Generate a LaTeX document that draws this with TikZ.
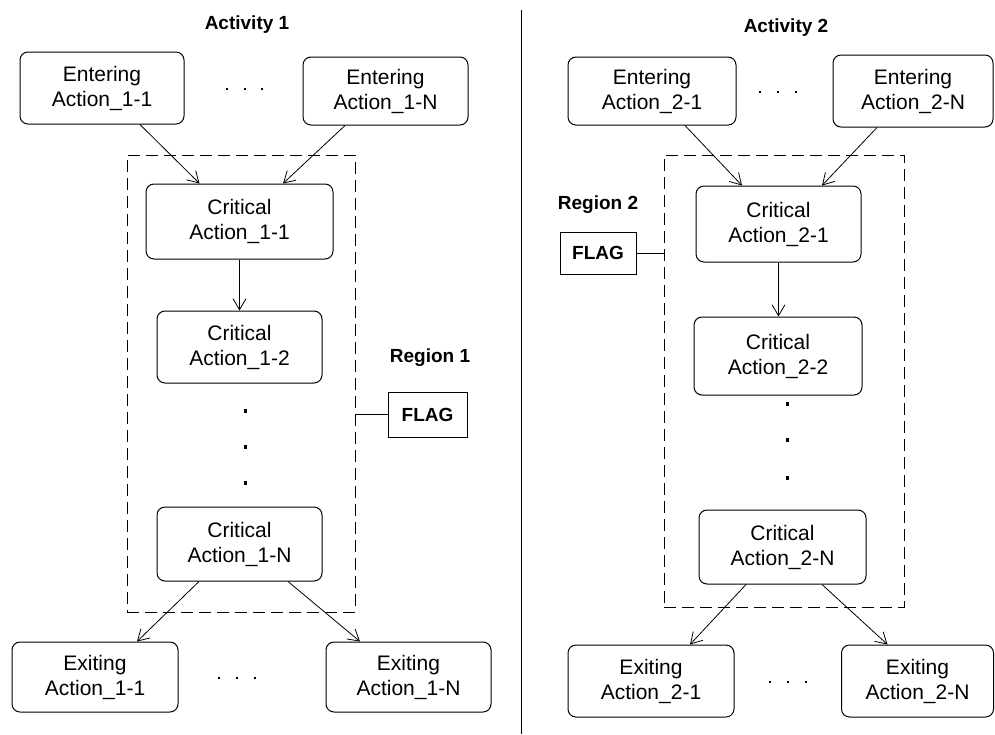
\documentclass[tikz,border=0pt]{standalone}
\usepackage{fontspec}
\setmainfont{Liberation Sans}
\usetikzlibrary{arrows.meta,calc}

\begin{document}
\begin{tikzpicture}[x=1pt,y=-1pt,
  act/.style={draw, line width=1pt, rounded corners=8pt, align=center,
    inner sep=0pt, font=\fontsize{21}{25}\selectfont},
  region/.style={draw, line width=0.9pt, dash pattern=on 12pt off 6pt, inner sep=0pt},
  flagbox/.style={draw, line width=1pt, inner sep=0pt,
    font=\fontsize{19}{22}\selectfont\bfseries},
  title/.style={font=\fontsize{19}{22}\selectfont\bfseries, inner sep=0pt},
  flow/.style={line width=0.8pt, -{Straight Barb[length=11pt,width=13pt,line width=0.8pt]}},
  dot/.style={fill=black}
]
\useasboundingbox (0,0) rectangle (995,734);

% divider between the two activities
\coordinate (divtop) at (521,10);
\coordinate (divbot) at (521,734);
\draw[line width=1pt] (divtop) -- (divbot);

% ---------------- Activity 1 ----------------
\node[title] (t1) at (247,25) {Activity 1};
\node[region, minimum width=228, minimum height=457] (r1) at (241,383.5) {};

\node[act, minimum width=164, minimum height=72] (e11) at (102,88) {Entering\\Action\_1-1};
\node[act, minimum width=165, minimum height=68] (e1N) at (385.5,91) {Entering\\Action\_1-N};
\node[act, minimum width=187, minimum height=75] (c11) at (239.5,221.5) {Critical\\Action\_1-1};
\node[act, minimum width=165, minimum height=72] (c12) at (239.5,347) {Critical\\Action\_1-2};
\node[act, minimum width=165, minimum height=74] (c1N) at (239.5,544) {Critical\\Action\_1-N};
\node[act, minimum width=166, minimum height=70] (x11) at (95,677) {Exiting\\Action\_1-1};
\node[act, minimum width=165, minimum height=70] (x1N) at (408.5,677) {Exiting\\Action\_1-N};

\node[title] (rl1) at (430,358) {Region 1};
\node[flagbox, minimum width=79, minimum height=45] (f1) at (427.5,414.5) {FLAG};
\draw[line width=0.9pt] (r1.east |- f1.west) -- (f1.west);

\draw[flow] ([xshift=38]e11.south) -- ([xshift=-40]c11.north);
\draw[flow] ([xshift=-40.5]e1N.south) -- ([xshift=43.5]c11.north);
\draw[flow] (c11.south) -- (c12.north);
\draw[flow] ([xshift=-40.5]c1N.south) -- ([xshift=42]x11.north);
\draw[flow] ([xshift=48.5]c1N.south) -- ([xshift=-48.5]x1N.north);

% ellipsis marks
\foreach \px in {227,245,262} \fill[dot] (\px-1.2,88) rectangle (\px+1.2,90.4);
\foreach \py in {411,447,483} \fill[dot] (244,\py-1.6) rectangle (247,\py+1.6);
\foreach \px in {219,237,255} \fill[dot] (\px-1.2,677) rectangle (\px+1.2,679.4);

% ---------------- Activity 2 ----------------
\node[title] (t2) at (786,28) {Activity 2};
\node[region, minimum width=240, minimum height=452] (r2) at (784,381) {};

\node[act, minimum width=168, minimum height=68] (e21) at (652,91) {Entering\\Action\_2-1};
\node[act, minimum width=160, minimum height=72] (e2N) at (913,91) {Entering\\Action\_2-N};
\node[act, minimum width=165, minimum height=76] (c21) at (778.5,224) {Critical\\Action\_2-1};
\node[act, minimum width=168, minimum height=78] (c22) at (778,356) {Critical\\Action\_2-2};
\node[act, minimum width=167, minimum height=74] (c2N) at (782.5,547) {Critical\\Action\_2-N};
\node[act, minimum width=166, minimum height=72] (x21) at (651,681) {Exiting\\Action\_2-1};
\node[act, minimum width=152, minimum height=72] (x2N) at (917.5,681) {Exiting\\Action\_2-N};

\node[title] (rl2) at (598,205) {Region 2};
\node[flagbox, minimum width=76, minimum height=42] (f2) at (598,253) {FLAG};
\draw[line width=0.9pt] (f2.east) -- (r2.west |- f2.east);

\draw[flow] ([xshift=33]e21.south) -- ([xshift=-36.5]c21.north);
\draw[flow] ([xshift=-36]e2N.south) -- ([xshift=43.5]c21.north);
\draw[flow] (c21.south) -- (c21.south |- c22.north);
\draw[flow] ([xshift=-36.5]c2N.south) -- ([xshift=39]x21.north);
\draw[flow] ([xshift=39.5]c2N.south) -- ([xshift=-30]x2N.north);

% ellipsis marks
\foreach \px in {760,778,796} \fill[dot] (\px-1.2,91) rectangle (\px+1.2,93.4);
\foreach \py in {404,440,478} \fill[dot] (786,\py-1.6) rectangle (789,\py+1.6);
\foreach \px in {770,788,806} \fill[dot] (\px-1.2,681) rectangle (\px+1.2,683.4);
\end{tikzpicture}
\end{document}
